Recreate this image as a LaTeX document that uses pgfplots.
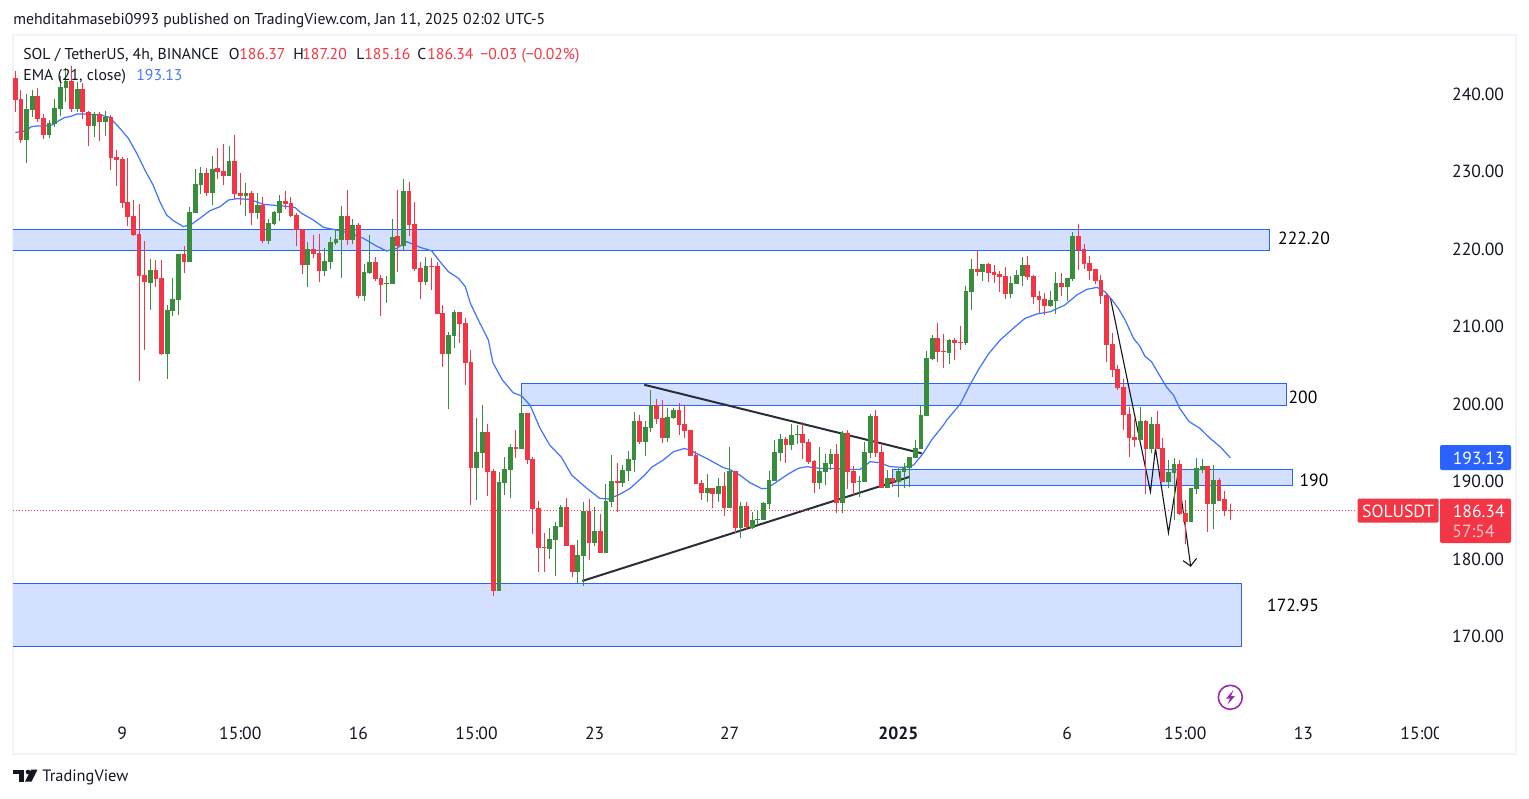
\documentclass[border=0pt]{standalone}
\usepackage{fontspec}
\setmainfont{PT Sans}
\usepackage{pgfplots}
\usepackage{pgfplotstable}
\pgfplotsset{compat=1.18}
\definecolor{cred}{HTML}{F23645}
\definecolor{cgreen}{HTML}{388E3C}
\definecolor{cblue}{HTML}{2962FF}
\definecolor{zone}{HTML}{D4E0FF}
\definecolor{ink}{HTML}{131722}
\definecolor{frame}{HTML}{F0F3FA}
\definecolor{bolt}{HTML}{9C27B0}
\newcommand{\tvfont}{\fontsize{7.85}{9}\selectfont}
\newcommand{\scalefont}{\fontsize{8.8}{10}\selectfont}
% 4h candles, i = candle number
\pgfplotstableread{
i o h l c
0 242.17 243.03 237.78 239.29
1 239.42 240.58 233.78 234.17
2 234.17 240.02 231.12 238.13
3 238.00 240.58 237.14 239.80
4 239.80 240.79 236.49 236.84
5 236.97 237.44 234.26 234.82
6 234.82 236.71 234.43 236.32
7 236.19 239.42 235.85 238.26
8 238.13 242.43 237.22 240.97
9 240.84 243.37 239.07 241.74
10 241.74 243.68 237.78 238.13
11 238.13 241.65 237.78 240.71
12 240.71 241.44 236.79 237.74
13 237.74 237.91 233.35 235.98
14 235.98 237.70 234.47 237.48
15 237.48 237.70 234.04 236.45
16 236.45 237.87 234.64 237.10
17 237.10 237.35 230.26 231.85
18 231.93 232.88 228.19 231.55
19 231.68 231.93 225.40 226.00
20 226.13 231.81 223.07 224.19
21 224.32 226.39 221.74 221.87
22 222.00 225.87 203.03 216.58
23 216.71 221.10 207.03 215.81
24 215.68 218.77 212.19 217.35
25 217.35 218.64 215.16 216.19
26 216.32 218.64 206.39 206.52
27 206.52 212.84 203.29 212.19
28 212.06 216.32 211.42 213.61
29 213.48 219.42 211.55 219.42
30 219.42 220.45 216.97 218.39
31 218.39 225.48 218.39 224.84
32 224.71 230.43 224.71 228.45
33 228.32 230.64 227.16 229.87
34 229.87 230.51 226.90 227.29
35 227.29 232.06 225.74 230.39
36 230.51 233.09 229.10 230.00
37 230.13 233.61 228.32 229.48
38 229.48 233.35 229.48 231.42
39 231.42 234.77 226.52 227.16
40 227.29 229.87 225.74 226.90
41 226.90 228.58 224.32 227.29
42 227.29 227.55 223.16 224.71
43 224.71 227.29 223.94 225.74
44 225.74 226.78 220.84 221.10
45 221.10 223.94 220.71 223.42
46 223.29 224.97 223.16 224.84
47 224.71 227.03 223.68 226.26
48 226.26 227.55 225.23 225.87
49 226.00 226.78 224.20 224.32
50 224.45 224.71 220.45 222.52
51 222.65 222.65 216.84 218.00
52 218.00 220.97 215.16 220.07
53 220.07 221.87 218.91 219.42
54 219.55 222.00 215.81 217.23
55 217.23 220.20 216.58 218.52
56 218.39 221.61 217.49 220.97
57 220.84 222.52 220.58 221.36
58 221.23 225.61 216.32 224.32
59 224.32 227.68 220.58 221.23
60 221.23 223.94 220.71 223.16
61 223.16 223.42 213.74 214.00
62 214.00 218.13 213.36 217.10
63 216.97 221.87 216.84 218.39
64 218.39 219.03 215.94 216.20
65 216.32 216.71 211.42 215.42
66 215.55 216.58 213.10 215.68
67 215.55 223.94 215.55 221.61
68 221.74 227.68 217.10 220.45
69 220.45 229.10 219.94 227.55
70 227.55 228.71 221.74 223.16
71 223.29 226.13 217.23 217.49
72 217.62 218.39 213.62 215.81
73 215.81 219.03 215.42 217.87
74 217.87 218.91 214.78 217.74
75 217.87 218.39 211.68 211.68
76 211.81 212.84 204.84 206.52
77 206.52 209.36 199.42 208.97
78 208.84 212.20 207.29 211.94
79 211.94 211.94 207.94 210.39
80 210.52 211.16 202.52 205.36
81 205.49 207.03 187.03 191.81
82 191.81 198.26 187.68 193.87
83 193.74 199.94 191.81 196.45
84 196.45 197.49 188.20 191.29
85 191.42 191.68 175.29 175.93
86 175.93 191.29 175.93 190.00
87 189.87 193.22 188.32 191.68
88 191.55 194.90 187.93 194.51
89 194.51 196.71 193.10 194.26
90 194.26 201.22 194.26 198.90
91 198.90 198.90 192.32 192.84
92 192.97 193.22 183.29 186.52
93 186.64 187.55 178.39 181.48
94 181.61 183.42 178.39 181.48
95 181.35 184.06 180.06 182.64
96 182.52 184.84 177.87 184.32
97 184.19 187.03 184.19 186.77
98 186.77 187.94 181.74 181.74
99 181.87 181.87 177.74 178.39
100 178.39 182.52 176.97 180.58
101 180.45 187.42 176.58 186.26
102 186.26 187.81 179.94 182.13
103 182.13 186.77 181.74 183.68
104 183.68 185.87 180.84 180.84
105 180.84 189.74 180.84 187.55
106 187.42 193.48 186.77 190.13
107 190.13 192.45 186.13 189.87
108 189.87 192.19 189.35 191.55
109 191.42 194.00 190.13 192.97
110 192.84 199.03 191.29 197.87
111 197.87 198.64 194.90 195.16
112 195.16 197.87 193.35 197.10
113 196.97 201.87 196.45 199.93
114 199.93 200.71 197.48 198.13
115 198.26 200.58 195.03 195.68
116 195.68 199.55 195.16 198.39
117 198.26 199.55 198.13 199.29
118 199.29 200.19 196.06 197.35
119 197.48 199.81 195.68 196.58
120 196.71 196.71 193.35 193.35
121 193.48 194.00 189.74 189.74
122 189.87 190.26 187.68 188.58
123 188.58 191.03 187.42 189.22
124 189.22 189.22 186.64 188.45
125 188.45 190.52 187.42 189.48
126 189.48 191.29 185.61 186.64
127 186.64 194.51 186.64 191.42
128 191.42 191.42 183.42 184.06
129 184.06 187.42 182.77 186.90
130 186.90 187.42 183.81 184.19
131 184.06 186.13 183.93 185.10
132 185.10 186.39 184.41 185.23
133 185.10 187.42 185.10 187.29
134 187.16 191.42 186.52 190.26
135 190.13 195.42 190.13 193.87
136 193.74 196.19 192.71 195.55
137 195.55 195.81 192.45 194.77
138 194.77 197.48 194.13 196.06
139 196.06 197.35 194.90 196.19
140 196.19 197.74 192.97 195.03
141 195.16 195.55 192.32 192.58
142 192.71 192.84 188.58 189.87
143 189.87 194.51 189.10 191.42
144 191.29 193.61 189.61 192.45
145 192.32 194.26 191.55 193.61
146 193.61 194.90 186.00 187.29
147 187.29 196.58 186.00 196.32
148 196.32 196.71 189.10 191.29
149 191.42 192.06 188.32 189.87
150 190.00 190.77 188.06 190.13
151 190.00 195.16 190.00 193.87
152 193.74 198.77 193.10 198.51
153 198.51 199.29 193.22 193.74
154 193.87 194.77 189.22 189.22
155 189.22 191.55 189.22 190.52
156 190.52 190.52 189.35 190.00
157 190.00 191.81 188.06 191.42
158 191.29 192.45 189.22 191.93
159 191.81 193.22 189.35 193.22
160 193.10 195.42 193.10 194.39
161 194.26 199.81 194.26 198.64
162 198.52 206.91 198.52 206.00
163 205.87 208.97 205.75 208.58
164 208.58 210.52 205.49 206.78
165 206.91 209.10 204.71 206.78
166 206.65 208.46 205.23 208.33
167 208.33 208.58 205.75 207.94
168 208.07 210.13 207.04 207.94
169 207.94 215.29 207.68 214.65
170 214.52 218.78 212.20 217.49
171 217.49 219.94 216.58 217.10
172 217.10 218.13 215.94 218.13
173 218.13 218.26 215.81 216.97
174 217.10 218.00 215.68 216.71
175 216.84 217.23 214.52 216.46
176 216.58 217.75 213.62 214.26
177 214.26 216.58 213.75 215.68
178 215.55 217.36 215.55 216.71
179 216.58 219.04 215.29 218.00
180 218.00 219.16 216.07 216.46
181 216.58 216.71 212.97 213.87
182 214.00 214.65 211.81 213.49
183 213.62 214.39 211.55 212.71
184 212.71 214.65 212.58 213.49
185 213.36 217.10 211.68 215.68
186 215.68 216.97 214.00 215.16
187 215.16 216.33 213.36 216.33
188 216.20 222.26 215.94 221.75
189 221.75 223.29 217.36 219.94
190 220.07 220.71 217.49 218.13
191 218.26 219.16 216.07 217.23
192 217.49 217.49 215.55 215.94
193 216.07 216.71 212.97 214.00
194 214.13 214.26 205.49 207.68
195 207.81 209.23 203.55 204.46
196 204.58 205.10 201.87 202.13
197 202.25 203.29 196.71 198.64
198 198.77 199.67 193.22 195.67
199 195.80 198.12 194.51 195.42
200 195.42 199.67 195.42 197.87
201 197.87 198.00 188.45 194.25
202 194.25 198.38 193.74 197.48
203 197.48 199.16 194.25 194.25
204 194.38 195.67 190.00 190.00
205 190.00 192.83 189.22 191.29
206 191.16 193.09 185.09 192.32
207 192.32 192.83 185.74 185.87
208 186.00 187.67 181.98 184.83
209 184.83 189.22 184.83 189.22
210 189.09 193.09 188.45 191.80
211 191.54 192.96 191.16 192.06
212 192.06 192.06 183.54 187.16
213 187.16 192.19 183.93 190.26
214 190.26 190.51 187.54 187.54
215 187.80 188.83 185.61 186.25
216 186.37 187.20 185.16 186.34
}\candles
% EMA(21)
\pgfplotstableread{
i ema
0 235.1
0.84 235.2
2 235.33
2.7 235.8
3.5 235.93
5 235.93
6.5 236.06
7.65 236.58
8.8 237.05
9.7 237.14
10.9 237.48
12.7 237.48
15.1 237.35
16.8 237.05
18.6 235.63
20.1 234.34
21.6 232.41
23.1 230.17
24.5 228.32
25.7 226.17
26.9 224.45
28.1 223.72
29.9 222.95
31.4 223.29
32.8 224.02
34.6 225.01
36.4 225.53
37.9 226.39
39.4 226.56
41.7 226.47
44.1 225.83
47.65 225.61
49.7 225.44
50.9 224.67
52.98 223.81
54.8 222.86
57.1 222.52
59.5 222.09
61.9 221.44
64.2 220.45
66 219.81
67.8 220.15
69.6 221.01
71.95 220.28
74 219.85
75.5 218.43
77 217.14
78.8 216.28
80 215.21
80.9 213.06
82.6 210.48
84.1 208.33
84.9 205.40
86.6 203.16
88.5 201.53
90 201.1
91.5 199.93
93.3 196.92
95 194.77
97.1 193.18
98.9 190.90
101.6 189.18
103.9 187.89
105.4 187.81
107.2 188.32
109.3 189.18
111.9 190.90
113.1 191.89
115.2 192.84
117 193.91
119 194.34
120.5 193.91
122.9 193.05
125.9 191.85
127 191.62
128.8 190.9
130.6 189.91
132.7 189.14
133.6 189.18
135.4 190.04
137.4 191.03
139.2 191.76
140.7 191.98
143.1 191.76
145.4 191.76
147.8 191.63
150.2 191.63
151.97 192.62
153.7 192.49
155.5 191.98
157.9 191.89
159.7 192.19
161.4 193.70
162.9 195.42
165 197.35
165.6 198.0
168 200.07
169.7 202.52
171.2 204.46
173 206.52
175.1 208.33
177.4 209.83
179.5 211.12
181.6 211.68
184 211.98
186.6 212.84
188.7 214.13
190.5 214.86
192.3 215.12
193.7 214.56
194.9 213.57
196.1 212.4
197.3 210.9
198.8 208.53
199.9 207.54
200.8 206.25
202 205.52
203.2 204.02
204.7 202.21
205.9 201.22
207 199.5
208.7 197.78
210.6 196.92
212.4 195.63
214.2 194.55
216 193.13
}\ema
\begin{document}
\begin{tikzpicture}[x=0.5pt,y=-0.5pt]
\useasboundingbox (0,0) rectangle (1529,798);
\fill[white] (0,0) rectangle (1529,798);
\draw[frame, line width=1pt] (12.5,34.5) rectangle (1516,753.5);
\begin{axis}[
  at={(6.5pt,-360pt)}, anchor=south west,
  scale only axis, width=713.5pt, height=343pt,
  xmin=-0.41, xmax=253.28, ymin=159.29, ymax=247.81,
  axis line style={draw=none}, major tick length=0pt,
  axis y line*=right,
  ytick={170,180,190,200,210,220,230,240},
  xtick={19,40,61,82,103,127,157,187,208,229,250},
  xticklabels={9,15:00,16,15:00,23,27,\textbf{2025},6,15:00,13,15:00},
  ticklabel style={font=\scalefont, text=ink},
  xticklabel style={anchor=center, yshift=-6.75pt},
  yticklabel style={anchor=east, xshift=35.5pt, yshift=0.3pt,
    /pgf/number format/.cd, assume math mode=true, fixed, fixed zerofill, precision=2},
]
% zones
\addplot[fill=zone, draw=cblue, line width=0.5pt] coordinates {(-5,222.61) (222.97,222.61) (222.97,219.90) (-5,219.90)} --cycle;
\addplot[fill=zone, draw=cblue, line width=0.5pt] coordinates {(89.96,202.74) (225.9,202.74) (225.9,199.90) (89.96,199.90)} --cycle;
\addplot[fill=zone, draw=cblue, line width=0.5pt] coordinates {(155.9,191.64) (227.1,191.64) (227.1,189.55) (155.9,189.55)} --cycle;
\addplot[fill=zone, draw=cblue, line width=0.5pt] coordinates {(-5,176.93) (218.0,176.93) (218.0,168.84) (-5,168.84)} --cycle;
% drawn lines
\addplot[ink!90, line width=1pt] coordinates {(111.82,202.55) (161.14,193.70)};
\addplot[ink!90, line width=1pt] coordinates {(100.8,177.23) (158.9,190.65)};
\addplot[ink, line width=0.55pt] coordinates {(194.7,213.69) (201.8,188.75) (202.7,194.34) (205,183.46) (206.7,191.11) (208.95,179.16)};
\addplot[ink, line width=0.55pt] coordinates {(207.6,179.85) (208.95,179.16) (210,180.15)};
% last price
\addplot[cred, line width=0.45pt, dash pattern=on 0.5pt off 1pt] coordinates {(-0.41,186.34) (238.2,186.34)};
% EMA
\addplot[cblue!90, line width=0.6pt] table[x=i, y=ema] {\ema};
% wicks
\addplot[draw=none, no marks, error bars/.cd, y dir=plus, y explicit, error mark=none,
  error bar style={draw=cgreen, line width=0.55pt}]
  table[x=i, y=l, y error plus expr={ifthenelse(\thisrow{c}>\thisrow{o},\thisrow{h}-\thisrow{l},0)}] {\candles};
\addplot[draw=none, no marks, error bars/.cd, y dir=plus, y explicit, error mark=none,
  error bar style={draw=cred, line width=0.55pt}]
  table[x=i, y=l, y error plus expr={ifthenelse(\thisrow{c}>\thisrow{o},0,\thisrow{h}-\thisrow{l})}] {\candles};
% bodies
\addplot[draw=none, no marks, error bars/.cd, y dir=plus, y explicit, error mark=none,
  error bar style={draw=cgreen, line width=2.35pt}]
  table[x=i, y=o, y error plus expr={max(\thisrow{c}-\thisrow{o},0)}] {\candles};
\addplot[draw=none, no marks, error bars/.cd, y dir=plus, y explicit, error mark=none,
  error bar style={draw=cred, line width=2.35pt}]
  table[x=i, y=c, y error plus expr={max(\thisrow{o}-\thisrow{c},0)}] {\candles};
\end{axis}
% the time scale cuts off its last label
\fill[white] (1439,720) rectangle (1450,750);
% header and legend
\begin{scope}[every node/.style={inner sep=0pt, anchor=base west, font=\tvfont, text=ink}]
\node at (13,24) {mehditahmasebi0993 published on TradingView.com, Jan 11, 2025 02:02 UTC-5};
\node at (23,59) {SOL / TetherUS, 4h, BINANCE};
\node at (228.5,59) {O};
\node[text=cred] at (239,59) {186.37};
\node at (293,59) {H};
\node[text=cred] at (302,59) {187.20};
\node at (356,59) {L};
\node[text=cred] at (364,59) {185.16};
\node at (417,59) {C};
\node[text=cred] at (427,59) {186.34};
\node[text=cred] at (480,59) {−0.03 (−0.02\%)};
\node at (23,80) {EMA (21, close)};
\node[text=cblue!85] at (136,80) {193.13};
\node[font=\fontsize{8.2}{9}\selectfont] at (42,781.5) {TradingView};
\end{scope}
% zone labels
\begin{scope}[every node/.style={inner sep=0pt, font=\scalefont, text=black}]
\node at (1304,238) {222.20};
\node at (1303,397) {200};
\node at (1314,480) {190};
\node at (1293,605) {172.95};
\end{scope}
% price scale labels
\fill[cblue, rounded corners=1pt] (1440,445) rectangle (1511,470);
\node[inner sep=0pt, anchor=east, font=\scalefont, text=white] at (1505,458) {193.13};
\fill[cred, rounded corners=1pt] (1357.5,498.5) rectangle (1438.7,522.7);
\node[inner sep=0pt, font=\scalefont, text=white] at (1398,511) {SOLUSDT};
\fill[cred, rounded corners=1pt] (1440,498.5) rectangle (1511,543);
\node[inner sep=0pt, anchor=east, font=\scalefont, text=white] at (1505,511) {186.34};
\node[inner sep=0pt, anchor=west, font=\scalefont, text=white!70!cred] at (1452,531) {57:54};
% lightning icon
\draw[bolt, line width=0.8pt] (1230.3,697.3) circle [radius=12];
\fill[bolt] (1233.5,690) -- (1226,698.5) -- (1230,698.5) -- (1227.5,704.5) -- (1235,696) -- (1231,696) -- cycle;
% logo
\fill[ink] (13.3,769.5) rectangle (24,774);
\fill[ink] (18.7,774) rectangle (24,781.7);
\fill[ink] (28,772) circle [radius=2.3];
\fill[ink] (31,769.5) -- (37.5,769.5) -- (31.5,781.7) -- (25,781.7) -- cycle;
\end{tikzpicture}
\end{document}
